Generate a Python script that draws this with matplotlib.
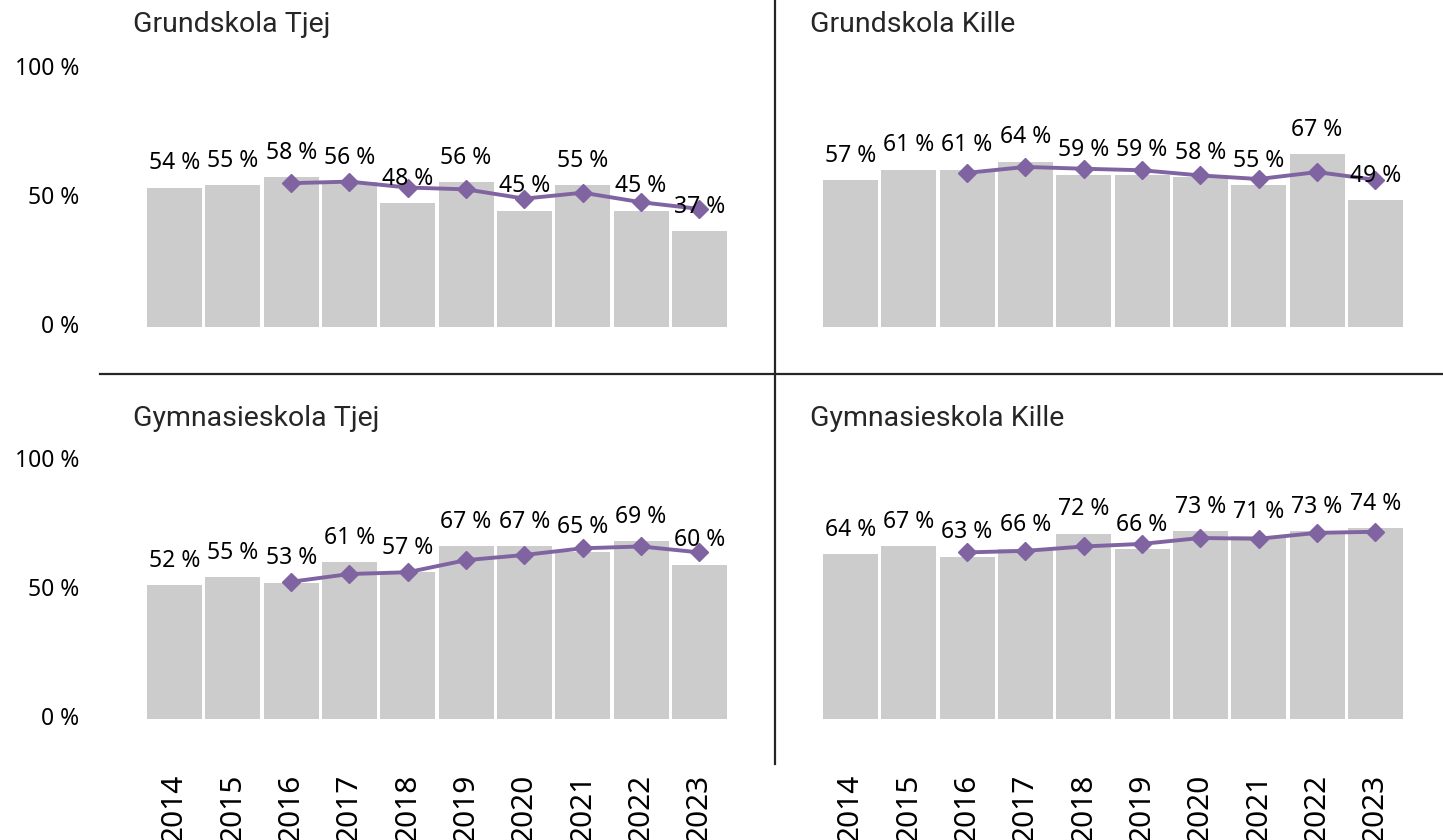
import numpy as np
import matplotlib
matplotlib.use("Agg")
import matplotlib.pyplot as plt
from matplotlib.lines import Line2D

# Data
years = ["2014", "2015", "2016", "2017", "2018", "2019", "2020", "2021", "2022", "2023"]

titles = ["Grundskola Tjej", "Grundskola Kille", "Gymnasieskola Tjej", "Gymnasieskola Kille"]

grund_tjej = [54, 55, 58, 56, 48, 56, 45, 55, 45, 37]
grund_kille = [57, 61, 61, 64, 59, 59, 58, 55, 67, 49]
gymn_tjej = [52, 55, 53, 61, 57, 67, 67, 65, 69, 60]
gymn_kille = [64, 67, 63, 66, 72, 66, 73, 71, 73, 74]

# trend line (starts 2016)
grund_tjej_line = [None, None, 55.7, 56.3, 54.0, 53.3, 49.7, 52.0, 48.3, 45.7]
grund_kille_line = [None, None, 59.7, 62.0, 61.3, 60.7, 58.7, 57.3, 60.0, 57.0]
gymn_tjej_line = [None, None, 53.3, 56.3, 57.0, 61.7, 63.7, 66.3, 67.0, 64.7]
gymn_kille_line = [None, None, 64.7, 65.3, 67.0, 68.0, 70.3, 70.0, 72.3, 72.7]

bars = [grund_tjej, grund_kille, gymn_tjej, gymn_kille]
lines = [grund_tjej_line, grund_kille_line, gymn_tjej_line, gymn_kille_line]

W, H = 1443, 840
fig = plt.figure(figsize=(W / 100, H / 100), dpi=100)

bar_col = "#cccccc"
line_col = "#8064a2"
txt_font = ["Noto Sans", "DejaVu Sans"]
title_font = ["Roboto", "DejaVu Sans"]

# panel positions in pixels: (left, right, y of 0 %, y of 100 %)
panels = [
    (145.3, 728.6, 326.7, 69.0),
    (821.3, 1404.6, 326.7, 69.0),
    (145.3, 728.6, 719.0, 461.5),
    (821.3, 1404.6, 719.0, 461.5),
]
title_pos = [(133, 25), (810, 25), (133, 418), (810, 418)]

x = np.arange(len(years))

for i, (l, r, y0, y1) in enumerate(panels):
    ax = fig.add_axes([l / W, 1 - y0 / H, (r - l) / W, (y0 - y1) / H])
    vals = np.array(bars[i]) / 100
    ax.bar(x, vals, width=0.943, color=bar_col, zorder=1)
    ln = np.array([np.nan if v is None else v / 100 for v in lines[i]])
    ax.plot(x, ln, color=line_col, lw=2.8, marker="D", markersize=9, zorder=3)
    for xi, v in zip(x, bars[i]):
        ax.annotate(f"{v} %", (xi, v / 100), xytext=(0, 17.5), textcoords="offset points",
                    ha="center", va="center", fontsize=16.5, family=txt_font,
                    color="#000000", zorder=4, annotation_clip=False)
    ax.set_xlim(-0.5, len(years) - 0.5)
    ax.set_ylim(0, 1)
    for s in ax.spines.values():
        s.set_visible(False)
    ax.set_xticks([])
    ax.set_yticks([])
    ax.patch.set_alpha(0)

    if i in (0, 2):
        for t in [0, 0.5, 1.0]:
            ax.text(-0.5 - 66 / 58.33, t, f"{int(t * 100)} %", ha="right", va="center",
                    fontsize=16.5, family=txt_font, color="#000000")
    if i in (2, 3):
        for xi, yr in zip(x, years):
            fig.text((l + (xi + 0.5) * (r - l) / len(years)) / W, 1 - 774 / H, yr,
                     rotation=90, ha="center", va="top", fontsize=21.5,
                     family=txt_font, color="#000000")

    tx, ty = title_pos[i]
    fig.text(tx / W, 1 - ty / H, titles[i], ha="left", va="center", fontsize=20.5,
             family=title_font, color="#262626")

# divider lines
fig.add_artist(Line2D([100 / W, 1.0], [1 - 374 / H, 1 - 374 / H], color="#262626", lw=1.6))
fig.add_artist(Line2D([775 / W, 775 / W], [1.0, 1 - 764 / H], color="#262626", lw=1.6))

fig.savefig("out.png", dpi=100)
